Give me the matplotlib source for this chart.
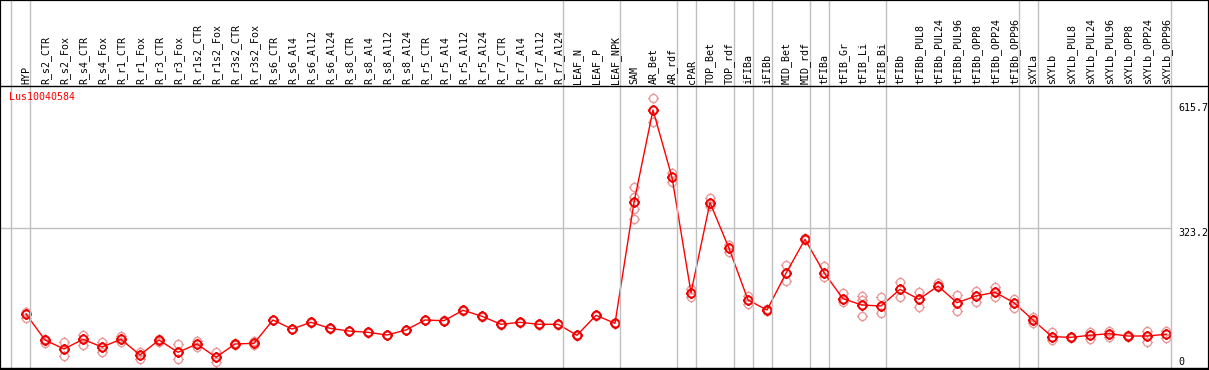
import matplotlib
matplotlib.use("Agg")
import matplotlib.pyplot as plt
import numpy as np
from matplotlib.path import Path
from matplotlib.lines import Line2D
from matplotlib.patches import Rectangle
import matplotlib.transforms as mtransforms

categories = ["HYP", "R_s2_CTR", "R_s2_Fox", "R_s4_CTR", "R_s4_Fox", "R_r1_CTR", "R_r1_Fox",
              "R_r3_CTR", "R_r3_Fox", "R_r1s2_CTR", "R_r1s2_Fox", "R_r3s2_CTR", "R_r3s2_Fox",
              "R_s6_CTR", "R_s6_Al4", "R_s6_Al12", "R_s6_Al24", "R_s8_CTR", "R_s8_Al4",
              "R_s8_Al12", "R_s8_Al24", "R_r5_CTR", "R_r5_Al4", "R_r5_Al12", "R_r5_Al24",
              "R_r7_CTR", "R_r7_Al4", "R_r7_Al12", "R_r7_Al24", "LEAF_N", "LEAF_P", "LEAF_NPK",
              "SAM", "AR_Bet", "AR_rdf", "cPAR", "TOP_Bet", "TOP_rdf", "iFIBa", "iFIBb",
              "MID_Bet", "MID_rdf", "tFIBa", "tFIB_Gr", "tFIB_Li", "tFIB_Bi", "tFIBb",
              "tFIBb_PUL8", "tFIBb_PUL24", "tFIBb_PUL96", "tFIBb_OPP8", "tFIBb_OPP24",
              "tFIBb_OPP96", "sXYLa", "sXYLb", "sXYLb_PUL8", "sXYLb_PUL24", "sXYLb_PUL96",
              "sXYLb_OPP8", "sXYLb_OPP24", "sXYLb_OPP96"]

means = [123.7, 63.1, 42.2, 64.7, 46.8, 64.7, 28.2, 63.1, 34.5, 53.8, 22.8, 53.8, 55.4,
         109.7, 88.7, 104.3, 90.3, 84.1, 81.0, 74.8, 86.4, 109.7, 108.1, 132.3, 118.3,
         99.7, 104.3, 99.7, 99.7, 74.1, 120.6, 102.0,
         383.8, 598.8, 442.0, 173.3, 383.0, 276.7, 156.3, 133.0, 218.5, 297.6,
         219.9, 159.3, 144.6, 142.3, 181.2, 157.9, 188.9, 150.0, 165.6, 174.2, 150.0,
         109.7, 70.8, 69.4, 74.1, 77.8, 72.4, 72.4, 76.4]

replicates = [[129.0, 113.6], [64.7, 56.8], [57.8, 25.9], [74.8, 51.5], [57.8, 34.5],
              [72.4, 57.8], [35.9, 18.2], [64.7, 59.0], [53.1, 18.2], [61.5, 47.5],
              [34.5, 12.6], [56.8, 51.5], [61.5, 51.5],
              [110.5, 109.0], [89.5, 88.0], [105.0, 103.5], [91.0, 89.5], [85.0, 83.5],
              [81.5, 80.5], [75.5, 74.0], [87.0, 85.5], [110.5, 109.0], [109.0, 107.5],
              [133.0, 131.5], [119.0, 117.5], [100.5, 99.0], [105.0, 103.5], [100.5, 99.0],
              [100.5, 99.0], [75.0, 73.5], [121.5, 120.0], [103.0, 101.5],
              [420.2, 396.9, 368.2, 344.2], [626.0, 570.0], [451.4, 431.8], [181.2, 164.0],
              [394.5, 375.2], [284.4, 267.4], [165.6, 146.3], [136.0, 130.0], [237.8, 200.5],
              [300.0, 295.0], [235.5, 209.1], [171.9, 152.3], [165.6, 156.3, 119.0],
              [162.5, 125.3], [197.5, 162.5], [174.2, 140.7], [195.2, 186.0], [167.9, 130.7],
              [177.9, 152.3], [185.9, 164.0], [159.3, 136.9], [117.4, 102.0], [82.5, 63.1],
              [71.0, 68.0], [82.5, 64.7], [84.8, 70.0], [74.0, 71.0], [84.8, 57.8],
              [84.8, 67.8]]

separators_after = [-1, 0, 28, 31, 34, 35, 37, 38, 39, 41, 42, 45, 52, 53, 60]
y_ticks = [615.7, 323.2, 0]
gene = "Lus10040584"

W, H = 1209, 370
fig = plt.figure(figsize=(W / 100, H / 100), dpi=100)
fig.patch.set_facecolor("white")

ax = fig.add_axes([0, (H - 368) / H, 1, (368 - 85) / H])
ax.set_axis_off()
x0px, dxpx = 26.0, 19.0
ax.set_xlim((0 - x0px) / dxpx, (W - x0px) / dxpx)
upp = 2.329
ax.set_ylim(-(368 - 367.1) * upp, (367.1 - 85) * upp)

mono = "DejaVu Sans Mono"
fs = 7.2

# marker: circle with four short ticks
theta = np.linspace(0, 2 * np.pi, 33)
circ = Path(np.column_stack([np.cos(theta), np.sin(theta)]))
ticks = []
for (a, b) in [((1, 0), (1.35, 0)), ((-1, 0), (-1.35, 0)), ((0, 1), (0, 1.35)), ((0, -1), (0, -1.35))]:
    ticks.append(Path([a, b], [Path.MOVETO, Path.LINETO]))
mpath = Path.make_compound_path(circ, *ticks)

xs = np.arange(len(categories))

ax.plot([ax.get_xlim()[0], 60 + 4.5 / dxpx], [323.2, 323.2], color="#c0c0c0", lw=1.0, zorder=1)

blend = mtransforms.blended_transform_factory(ax.transData, fig.transFigure)
for s in separators_after:
    xv = s + 4.5 / dxpx
    fig.add_artist(Line2D([xv, xv], [0, 1], transform=blend, color="#c0c0c0", lw=1.0, zorder=1))

for i, reps in enumerate(replicates):
    ax.plot([i] * len(reps), reps, linestyle="none", marker=mpath, markersize=7.8,
            markerfacecolor="none", markeredgecolor="#e89a9a", markeredgewidth=1.0, zorder=2)

ax.plot(xs, means, color="#ff0000", lw=1.0, zorder=3)
ax.plot(xs, means, linestyle="none", marker=mpath, markersize=7.8,
        markerfacecolor="none", markeredgecolor="#ee0000", markeredgewidth=1.4, zorder=4)

for i, c in enumerate(categories):
    fig.text(i + 0.5 / dxpx, 1 - 83.5 / H, c, transform=blend, fontsize=fs, family=mono,
             rotation=90, ha="center", va="bottom", color="black")

fig.text(9 / W, 1 - 92 / H, gene, fontsize=fs, family=mono, color="#ff0000", ha="left", va="top")

tr = mtransforms.blended_transform_factory(fig.transFigure, ax.transData)
for v in y_ticks:
    lab = "0" if v == 0 else f"{v}"
    fig.text(1178 / W, v, lab, transform=tr, fontsize=fs, family=mono, color="black",
             ha="left", va="bottom" if v == 0 else "top")

fig.add_artist(Line2D([0, 1], [1 - 85.5 / H, 1 - 85.5 / H], transform=fig.transFigure, color="black", lw=1.0))
fig.add_artist(Line2D([0, 1], [1 - 368 / H, 1 - 368 / H], transform=fig.transFigure, color="black", lw=1.0))
fig.add_artist(Rectangle((0, 0), 1, 1, transform=fig.transFigure, fill=False, ec="black", lw=1.6))

fig.savefig("out.png", dpi=100)
